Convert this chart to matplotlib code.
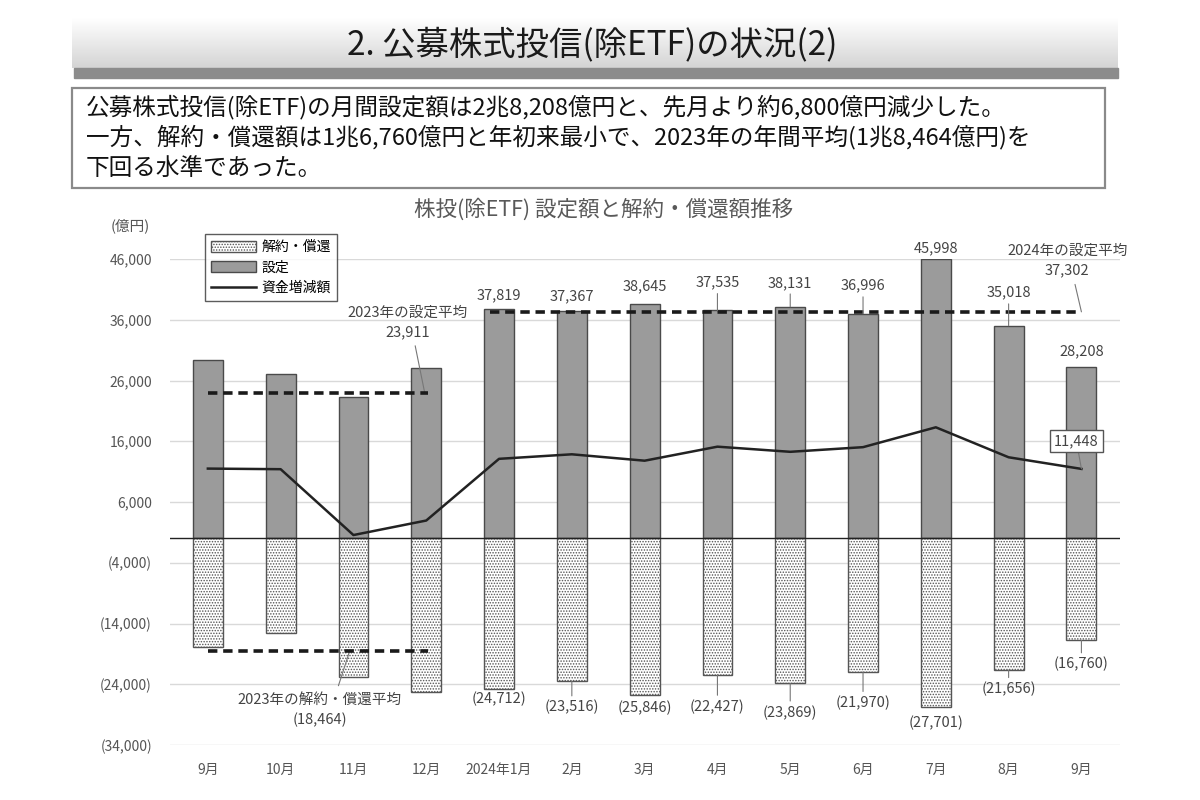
import numpy as np
import matplotlib
matplotlib.use('Agg')
import matplotlib.pyplot as plt
from matplotlib.patches import Patch, Rectangle
from matplotlib.lines import Line2D

plt.rcParams['font.family'] = ['Noto Sans CJK JP', 'DejaVu Sans']
plt.rcParams['hatch.linewidth'] = 0.7

# data (億円)
months = ['9月', '10月', '11月', '12月', '2024年1月', '2月', '3月', '4月',
          '5月', '6月', '7月', '8月', '9月']
settei = [29300, 27000, 23300, 28100, 37819, 37367, 38645, 37535,
          38131, 36996, 45998, 35018, 28208]
kaiyaku = [-17800, -15600, -22800, -25200, -24712, -23516, -25846, -22427,
           -23869, -21970, -27701, -21656, -16760]
net_flow = [11500, 11400, 560, 2950, 13107, 13851, 12799, 15108,
            14262, 15026, 18297, 13362, 11448]
avg_settei_2023 = 23911
avg_settei_2024 = 37302
avg_kaiyaku_2023 = -18464
yticks = [46000, 36000, 26000, 16000, 6000, -4000, -14000, -24000, -34000]
ytick_labels = ['46,000', '36,000', '26,000', '16,000', '6,000',
                '(4,000)', '(14,000)', '(24,000)', '(34,000)']

# label offsets in pixels for the 2024 bars
pos_dy = [13, 15, 17, 28, 24, 28, 11, 33, 16]
neg_dy = [-10, -26, -12, -32, -29, -31, -16, -19, -24]

W, H = 1200, 800
fig = plt.figure(figsize=(12, 8), dpi=100)


def fx(x):
    return x / W


def fy(y):
    return 1 - y / H


# header banner with gradient
bax = fig.add_axes([fx(72), fy(68), fx(1118 - 72), (68 - 18) / H])
grad = np.linspace(0, 1, 100).reshape(-1, 1)
bax.imshow(grad, cmap=matplotlib.colors.LinearSegmentedColormap.from_list(
    'g', ['#ffffff', '#d4d4d4']), aspect='auto', extent=[0, 1, 0, 1], origin='upper')
bax.axis('off')
fig.patches.append(Rectangle((fx(74), fy(78)), fx(1118 - 74), 10 / H,
                             transform=fig.transFigure, color='#8c8c8c', zorder=2))
fig.text(fx(592), fy(45), '2. 公募株式投信(除ETF)の状況(2)', ha='center', va='center',
         fontsize=24, color='#1a1a1a')

# summary box
fig.patches.append(Rectangle((fx(72), fy(188)), fx(1105 - 72), 100 / H,
                             transform=fig.transFigure, fill=False,
                             edgecolor='#8a8a8a', lw=1.6))
lines = ['公募株式投信(除ETF)の月間設定額は2兆8,208億円と、先月より約6,800億円減少した。',
         '一方、解約・償還額は1兆6,760億円と年初来最小で、2023年の年間平均(1兆8,464億円)を',
         '下回る水準であった。']
for k, t in enumerate(lines):
    fig.text(fx(86), fy(107 + 30.5 * k), t, ha='left', va='center',
             fontsize=17, color='#111111')

# chart
ax = fig.add_axes([fx(170), fy(745), fx(1120 - 170), (745 - 259) / H])
x = np.arange(len(months))
bw = 0.41

ax.bar(x, settei, width=bw, color='#9b9b9b', edgecolor='#4a4a4a', lw=1, zorder=3)
ax.bar(x, kaiyaku, width=bw, color='white', edgecolor='#555555', hatch='......',
       lw=1, zorder=3)
ax.plot(x, net_flow, color='#222222', lw=1.8, zorder=5)

dash = (0, (2.6, 1.6))
ax.plot([x[0], x[3] + 0.03], [avg_settei_2023] * 2, color='#1a1a1a', lw=2.6,
        ls=dash, zorder=6)
ax.plot([x[0], x[3] + 0.03], [avg_kaiyaku_2023] * 2, color='#1a1a1a', lw=2.6,
        ls=dash, zorder=6)
ax.plot([x[4] - 0.12, x[12]], [avg_settei_2024] * 2, color='#1a1a1a', lw=2.6,
        ls=dash, zorder=6)

ax.axhline(0, color='#222222', lw=1, zorder=4)
ax.set_xlim(-0.52, 12.53)
ax.set_ylim(-34000, 46000)
ax.set_yticks(yticks)
ax.set_yticklabels(ytick_labels)
ax.set_xticks(x)
ax.set_xticklabels(months)
ax.tick_params(axis='both', length=0, labelsize=10, labelcolor='#555555')
ax.tick_params(axis='y', pad=13)
ax.tick_params(axis='x', pad=13)
ax.grid(axis='y', color='#d9d9d9', lw=1, zorder=0)
for s in ax.spines.values():
    s.set_visible(False)

lab_col = '#444444'
fs = 10.5
lead = dict(arrowstyle='-', color='#777777', lw=0.8, shrinkA=1, shrinkB=0)
for j, i in enumerate(range(4, 13)):
    ap = dict(lead, relpos=(0.5, 0)) if pos_dy[j] > 20 else None
    ax.annotate(f'{settei[i]:,}', xy=(i, settei[i]), xytext=(0, pos_dy[j]),
                textcoords='offset pixels', ha='center', va='center',
                fontsize=fs, color=lab_col, arrowprops=ap, zorder=7)
    ap = dict(lead, relpos=(0.5, 1)) if neg_dy[j] < -18 else None
    ax.annotate(f'({-kaiyaku[i]:,})', xy=(i, kaiyaku[i]), xytext=(0, neg_dy[j]),
                textcoords='offset pixels', ha='center', va='center',
                fontsize=fs, color=lab_col, arrowprops=ap, zorder=7)

ax.annotate(f'2023年の設定平均\n{avg_settei_2023:,}', xy=(2.98, avg_settei_2023),
            xytext=(-17, 71), textcoords='offset pixels', ha='center', va='center',
            fontsize=fs, color=lab_col, linespacing=1.5,
            arrowprops=dict(lead, relpos=(0.55, 0), shrinkA=3))
ax.annotate(f'2024年の設定平均\n{avg_settei_2024:,}', xy=(12, avg_settei_2024),
            xytext=(-14, 51), textcoords='offset pixels', ha='center', va='center',
            fontsize=fs, color=lab_col, linespacing=1.5,
            arrowprops=dict(lead, relpos=(0.55, 0), shrinkA=3))
ax.annotate(f'2023年の解約・償還平均\n({-avg_kaiyaku_2023:,})', xy=(1.95, avg_kaiyaku_2023),
            xytext=(-30, -59), textcoords='offset pixels', ha='center', va='center',
            fontsize=fs, color=lab_col, linespacing=1.5,
            arrowprops=dict(lead, relpos=(0.6, 1), shrinkA=3))
ax.annotate(f'{net_flow[12]:,}', xy=(12, net_flow[12]), xytext=(-5, 28),
            textcoords='offset pixels', ha='center', va='center', fontsize=fs,
            color=lab_col, zorder=8,
            bbox=dict(boxstyle='square,pad=0.3', fc='white', ec='#555555', lw=1),
            arrowprops=dict(lead, shrinkA=0))

fig.text(fx(604), fy(210), '株投(除ETF) 設定額と解約・償還額推移', ha='center',
         va='center', fontsize=15.5, color='#595959')
fig.text(fx(150), fy(226), '(億円)', ha='right', va='center', fontsize=10.5,
         color='#555555')

handles = [Patch(facecolor='white', edgecolor='#555555', hatch='......'),
           Patch(facecolor='#9b9b9b', edgecolor='#4a4a4a'),
           Line2D([], [], color='#222222', lw=1.8)]
leg = fig.legend(handles, ['解約・償還', '設定', '資金増減額'], loc='upper left',
                 bbox_to_anchor=(fx(205), fy(234)), fontsize=10, frameon=True,
                 fancybox=False, edgecolor='#333333', handlelength=3.2,
                 handleheight=0.8, labelspacing=0.45, borderpad=0.45,
                 handletextpad=0.4, borderaxespad=0)
leg.get_frame().set_linewidth(1)
leg.set_zorder(10)

fig.savefig('out.png', dpi=100, facecolor='white')
